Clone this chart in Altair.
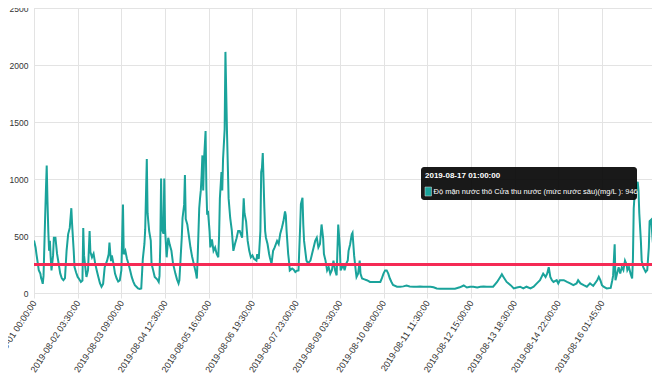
import altair as alt
import pandas as pd

# half-hourly reading number (category position on the x axis) and salinity (mg/L)
reading = [0, 2, 3, 5, 6, 8, 9, 10, 11, 12, 13, 14, 15, 16, 17, 18, 19, 20, 21, 22, 24, 25, 27, 29, 31, 33, 35, 37, 39,
           41, 43, 45, 47, 48, 50, 51, 53, 55, 57, 59, 61, 62, 63, 65, 66, 68, 70, 71, 73, 75, 77, 79, 81, 83, 85, 87,
           89, 92, 94, 95, 96, 97, 98, 100, 102, 104, 106, 108, 110, 112, 113, 115, 117, 119, 121, 123, 125, 127, 129,
           131, 133, 135, 137, 139, 140, 142, 143, 144, 145, 147, 148, 150, 152, 155, 157, 158, 159, 160, 161, 163, 164,
           165, 167, 169, 171, 173, 175, 178, 180, 182, 183, 186, 187, 189, 190, 191, 193, 195, 197, 199, 201, 204, 205,
           206, 208, 209, 210, 211, 212, 213, 214, 216, 217, 218, 219, 221, 222, 224, 226, 228, 230, 232, 233, 234, 236,
           237, 238, 240, 241, 243, 245, 247, 249, 251, 253, 255, 257, 259, 262, 264, 265, 267, 269, 271, 273, 275, 277,
           280, 281, 283, 285, 286, 287, 288, 290, 291, 292, 294, 296, 297, 299, 301, 303, 306, 308, 310, 312, 314, 316,
           317, 318, 320, 321, 322, 325, 327, 329, 331, 333, 335, 336, 338, 339, 340, 342, 343, 345, 348, 350, 352, 354,
           356, 358, 360, 362, 364, 365, 367, 369, 371, 373, 375, 377, 379, 381, 383, 385, 386, 388, 389, 391, 393, 395,
           396, 398, 400, 401, 402, 403, 405, 406, 408, 410, 411, 413, 416, 419, 423, 427, 432, 436, 438, 440, 442, 444,
           446, 448, 450, 452, 457, 461, 465, 469, 473, 478, 482, 486, 490, 495, 499, 503, 507, 511, 518, 524, 530, 536,
           541, 545, 549, 553, 558, 562, 566, 570, 574, 578, 583, 587, 589, 591, 595, 600, 604, 608, 612, 616, 620, 625,
           629, 633, 637, 641, 644, 646, 648, 650, 652, 654, 658, 660, 662, 667, 671, 675, 679, 683, 685, 688, 692, 696,
           700, 704, 709, 711, 713, 715, 717, 721, 726, 728, 729, 731, 732, 734, 736, 738, 740, 742, 744, 746, 747, 749,
           751, 753, 754, 755, 756, 757, 758, 759, 760, 761, 762, 764, 765, 767, 770, 772, 774, 775, 777, 779, 781, 783,
           786, 787, 789]
salinity = [460, 400, 345, 250, 200, 170, 130, 110, 80, 150, 400, 660, 900, 1118, 800, 543, 370, 457, 313, 198, 330,
            485, 485, 345, 259, 172, 129, 112, 130, 370, 517, 571, 744, 600, 370, 227, 180, 141, 120, 97, 110, 571, 330,
            200, 141, 200, 543, 360, 313, 345, 260, 198, 140, 86, 55, 80, 227, 284, 340, 442, 350, 280, 330, 260, 170,
            129, 100, 110, 200, 776, 340, 370, 300, 255, 200, 141, 100, 69, 55, 40, 35, 40, 300, 430, 560, 1175, 700,
            620, 543, 460, 256, 200, 141, 120, 97, 150, 428, 1005, 560, 520, 1005, 560, 313, 485, 420, 370, 260, 170,
            120, 84, 110, 485, 658, 773, 1035, 650, 601, 500, 399, 320, 260, 170, 127, 300, 744, 830, 900, 1030, 1207,
            900, 1161, 1420, 916, 687, 720, 543, 400, 470, 370, 400, 342, 313, 500, 830, 1060, 900, 1175, 1434, 2115,
            1400, 830, 658, 550, 370, 430, 480, 543, 543, 485, 830, 700, 629, 457, 370, 313, 330, 300, 284, 340, 300,
            543, 1060, 1100, 1227, 744, 543, 485, 430, 342, 310, 256, 370, 400, 457, 430, 520, 571, 629, 715, 680, 543,
            342, 280, 198, 215, 205, 184, 195, 198, 571, 780, 835, 601, 457, 342, 284, 260, 284, 342, 400, 457, 485,
            400, 430, 601, 480, 342, 284, 198, 227, 170, 200, 284, 200, 155, 601, 400, 198, 227, 256, 200, 256, 285,
            370, 428, 515, 528, 430, 330, 198, 141, 170, 284, 170, 127, 120, 112, 97, 97, 97, 97, 130, 170, 198, 198,
            170, 127, 97, 70, 55, 55, 58, 66, 58, 55, 55, 58, 55, 55, 55, 50, 40, 37, 37, 37, 37, 50, 66, 48, 55, 55,
            48, 55, 58, 55, 55, 55, 97, 141, 164, 141, 97, 69, 40, 48, 55, 40, 55, 40, 55, 84, 112, 170, 141, 170, 227,
            141, 112, 97, 112, 84, 112, 112, 97, 84, 69, 84, 112, 84, 69, 55, 84, 62, 112, 141, 112, 69, 55, 40, 45,
            112, 150, 428, 112, 170, 227, 170, 227, 200, 284, 250, 200, 227, 170, 127, 300, 744, 850, 916, 880, 946,
            975, 900, 700, 457, 284, 227, 184, 200, 399, 629, 643, 450, 342, 328, 485, 629, 650]

tick_step = 55
tick_labels = ["2019-08-01 00:00:00", "2019-08-02 03:30:00", "2019-08-03 09:00:00", "2019-08-04 12:30:00",
               "2019-08-05 16:00:00", "2019-08-06 19:30:00", "2019-08-07 23:00:00", "2019-08-09 03:30:00",
               "2019-08-10 08:00:00", "2019-08-11 11:30:00", "2019-08-12 15:00:00", "2019-08-13 18:30:00",
               "2019-08-14 22:00:00", "2019-08-16 01:45:00"]
y_ticks = [0, 500, 1000, 1500, 2000, 2500]
threshold = 250
tip_time = "2019-08-17 01:00:00"
tip_series = "Độ mặn nước thô Cửa thu nước (mức nước sâu)(mg/L )"
tip_value = 946

FONT = "Liberation Sans"
TEAL = "#1aa39b"
GRID = "#e3e3e3"

df = pd.DataFrame({"reading": reading, "salinity": salinity})
tick_vals = [i * tick_step for i in range(len(tick_labels))]
label_expr = "[" + ",".join("'" + t + "'" for t in tick_labels) + "][round(datum.value/" + str(tick_step) + ")]"

x_scale = alt.Scale(domain=[0, 778], nice=False, zero=False)
y_scale = alt.Scale(domain=[0, 2500], nice=False)

x_axis = alt.Axis(values=tick_vals, labelExpr=label_expr, labelAngle=-57, labelAlign="right",
                  labelBaseline="middle", labelFontSize=9, labelColor="#333", labelFont=FONT,
                  labelOverlap=False, labelBound=False, labelFlush=False, labelPadding=3,
                  tickSize=5, tickColor=GRID, domain=False, gridColor=GRID, title=None)
y_axis = alt.Axis(values=y_ticks, format="d", labelFontSize=8.5, labelColor="#333", labelFont=FONT,
                  labelPadding=6, ticks=False, domain=False, gridColor=GRID, title=None,
                  labelFlush=False, labelBound=False, labelOverlap=False)

line = alt.Chart(df).mark_line(color=TEAL, strokeWidth=2, clip=True).encode(
    x=alt.X("reading:Q", scale=x_scale, axis=x_axis),
    y=alt.Y("salinity:Q", scale=y_scale, axis=y_axis),
)

rule = alt.Chart(pd.DataFrame({"salinity": [threshold]})).mark_rule(color="#f52a55", strokeWidth=3).encode(
    y=alt.Y("salinity:Q", scale=y_scale, axis=y_axis)
)

one = pd.DataFrame({"line1": [tip_time], "line2": [f"{tip_series}: {tip_value}"]})
tip_box = alt.Chart(one).mark_rect(color="#050505", opacity=0.92, cornerRadius=3).encode(
    x=alt.value(387), x2=alt.value(603), y=alt.value(159), y2=alt.value(192)
)
tip_l1 = alt.Chart(one).mark_text(align="left", baseline="middle", color="white", font=FONT,
                                  fontSize=8, fontWeight="bold").encode(
    x=alt.value(391), y=alt.value(168), text="line1:N"
)
tip_sq = alt.Chart(one).mark_rect(color=TEAL, stroke="#dddddd", strokeWidth=0.5).encode(
    x=alt.value(391), x2=alt.value(397.5), y=alt.value(179), y2=alt.value(188)
)
tip_l2 = alt.Chart(one).mark_text(align="left", baseline="middle", color="white", font=FONT,
                                  fontSize=7.5).encode(
    x=alt.value(399.5), y=alt.value(183.5), text="line2:N"
)

chart = alt.layer(line, rule, tip_box, tip_l1, tip_sq, tip_l2).properties(
    width=618, height=285,
    autosize=alt.AutoSizeParams(type="none"),
    padding={"left": 26, "top": 0, "right": 0, "bottom": 82},
).configure_view(strokeWidth=0).configure(font=FONT)

chart.save("out.html", embed_options={"renderer": "svg", "actions": False})
